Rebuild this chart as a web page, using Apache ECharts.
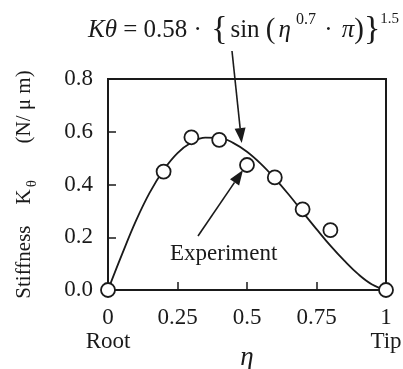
<!DOCTYPE html>
<html>
<head>
<meta charset="utf-8">
<script src="https://cdn.jsdelivr.net/npm/echarts@6/dist/echarts.min.js"></script>
<style>
  html, body { margin: 0; padding: 0; background: #fff; }
  #chart { width: 403px; height: 369px; }
</style>
</head>
<body>
<div id="chart"></div>
<script>
// experiment points (eta, stiffness)
var expEta = [0, 0.2, 0.3, 0.4, 0.5, 0.6, 0.7, 0.8, 1]
var expK = [0, 0.449, 0.579, 0.569, 0.474, 0.427, 0.306, 0.227, 0]

// fitted curve
var curveEta = [0, 0.05, 0.1, 0.15, 0.2, 0.25, 0.3, 0.35, 0.4, 0.45, 0.5,
  0.55, 0.6, 0.65, 0.7, 0.75, 0.8, 0.85, 0.9, 0.95, 1]
var curveK = [0, 0.134, 0.261, 0.369, 0.455, 0.519, 0.559, 0.578, 0.577, 0.558, 0.524,
  0.478, 0.423, 0.362, 0.296, 0.231, 0.168, 0.111, 0.060, 0.021, 0]

var xTicks = [0, 0.25, 0.5, 0.75, 1]
var xTickText = ['0\nRoot', '0.25', '0.5', '0.75', '1\nTip']

var ink = '#1a1a1a'
var serif = '"Liberation Serif", "DejaVu Serif", serif'

function zip (a, b) {
  return a.map(function (v, i) { return [v, b[i]] })
}

// arrow made of a line and a filled head, pixel coords
function arrow (x1, y1, x2, y2) {
  var dx = x2 - x1
  var dy = y2 - y1
  var len = Math.sqrt(dx * dx + dy * dy)
  var ux = dx / len
  var uy = dy / len
  var hl = 15
  var hw = 5.5
  var bx = x2 - ux * hl
  var by = y2 - uy * hl
  return [
    {
      type: 'line',
      shape: { x1: x1, y1: y1, x2: bx, y2: by },
      style: { stroke: ink, lineWidth: 1.6 },
      z: 100
    },
    {
      type: 'polygon',
      shape: { points: [[x2, y2], [bx - uy * hw, by + ux * hw], [bx + uy * hw, by - ux * hw]] },
      style: { fill: ink },
      z: 100
    }
  ]
}

var chart = echarts.init(document.getElementById('chart'))

chart.setOption({
  animation: false,
  grid: {
    left: 108,
    right: 17,
    top: 79,
    bottom: 79,
    outerBoundsMode: 'none',
    containLabel: false,
    show: true,
    borderColor: ink,
    borderWidth: 2
  },
  xAxis: {
    type: 'value',
    min: 0,
    max: 1,
    interval: 0.25,
    name: 'η',
    nameLocation: 'middle',
    nameGap: 54,
    nameMoveOverlap: false,
    nameTextStyle: { fontFamily: serif, fontStyle: 'italic', fontSize: 27, color: ink },
    axisLine: { lineStyle: { color: ink, width: 2 } },
    axisTick: { inside: true, length: 8, lineStyle: { color: ink, width: 1.5 } },
    splitLine: { show: false },
    axisLabel: {
      margin: 16,
      fontFamily: serif,
      fontSize: 23,
      lineHeight: 24,
      color: ink,
      formatter: function (v) {
        var i = xTicks.indexOf(v)
        return i >= 0 ? xTickText[i] : ''
      }
    }
  },
  yAxis: {
    type: 'value',
    min: 0,
    max: 0.8,
    interval: 0.2,
    name: '{a|Stiffness}{a|    K}{sub|θ}{a|       (N/ μ m)}',
    nameLocation: 'middle',
    nameRotate: 90,
    nameGap: 72,
    nameMoveOverlap: false,
    nameTextStyle: {
      color: ink,
      rich: {
        a: { fontFamily: serif, fontSize: 21, color: ink, lineHeight: 24 },
        sub: { fontFamily: serif, fontSize: 15, color: ink, verticalAlign: 'bottom', lineHeight: 24, padding: [0, 0, -4, 2] }
      }
    },
    axisLine: { lineStyle: { color: ink, width: 2 } },
    axisTick: { inside: true, length: 8, lineStyle: { color: ink, width: 1.5 } },
    splitLine: { show: false },
    axisLabel: {
      margin: 15,
      fontFamily: serif,
      fontSize: 23,
      color: ink,
      formatter: function (v) { return v.toFixed(1) }
    }
  },
  series: [
    {
      name: 'curve',
      type: 'line',
      data: zip(curveEta, curveK),
      smooth: 0.4,
      showSymbol: false,
      lineStyle: { color: ink, width: 1.8 },
      silent: true,
      z: 2
    },
    {
      name: 'Experiment',
      type: 'scatter',
      data: zip(expEta, expK),
      symbol: 'circle',
      symbolSize: 14,
      itemStyle: { color: '#fff', opacity: 1, borderColor: ink, borderWidth: 1.8 },
      silent: true,
      z: 3
    }
  ],
  graphic: [
    {
      type: 'text',
      left: 88,
      top: 10,
      z: 100,
      style: {
        text: '{i|Kθ}{n| = 0.58 · }{b|{}{s|sin }{p|(}{e|η}{sup|0.7}{n| · }{i|π}{p|)}}{sup2|1.5}',
        fontFamily: serif,
        fontSize: 34,
        fill: ink,
        rich: {
          i: { fontFamily: serif, fontStyle: 'italic', fontSize: 25, fill: ink, lineHeight: 40, verticalAlign: 'middle' },
          e: { fontFamily: serif, fontStyle: 'italic', fontSize: 25, fill: ink, lineHeight: 40, verticalAlign: 'middle', padding: [0, 0, 0, 3] },
          n: { fontFamily: serif, fontSize: 25, fill: ink, lineHeight: 40, verticalAlign: 'middle', padding: [0, 3, 0, 0] },
          s: { fontFamily: serif, fontSize: 25, fill: ink, lineHeight: 40, verticalAlign: 'middle', padding: [0, 0, 0, 3] },
          b: { fontFamily: serif, fontSize: 34, fill: ink, lineHeight: 40, verticalAlign: 'middle' },
          p: { fontFamily: serif, fontSize: 29, fill: ink, lineHeight: 40, verticalAlign: 'middle' },
          sup: { fontFamily: serif, fontSize: 16, fill: ink, lineHeight: 40, verticalAlign: 'top', padding: [2, 2, 0, 5] },
          sup2: { fontFamily: serif, fontSize: 15, fill: ink, lineHeight: 40, verticalAlign: 'top', padding: [2, 0, 0, 0] }
        }
      }
    },
    {
      type: 'text',
      left: 170,
      top: 242,
      z: 100,
      style: { text: 'Experiment', fontFamily: serif, fontSize: 23, fill: ink }
    }
  ].concat(arrow(232, 51, 241.7, 143)).concat(arrow(198, 236, 243, 170))
})
</script>
</body>
</html>
